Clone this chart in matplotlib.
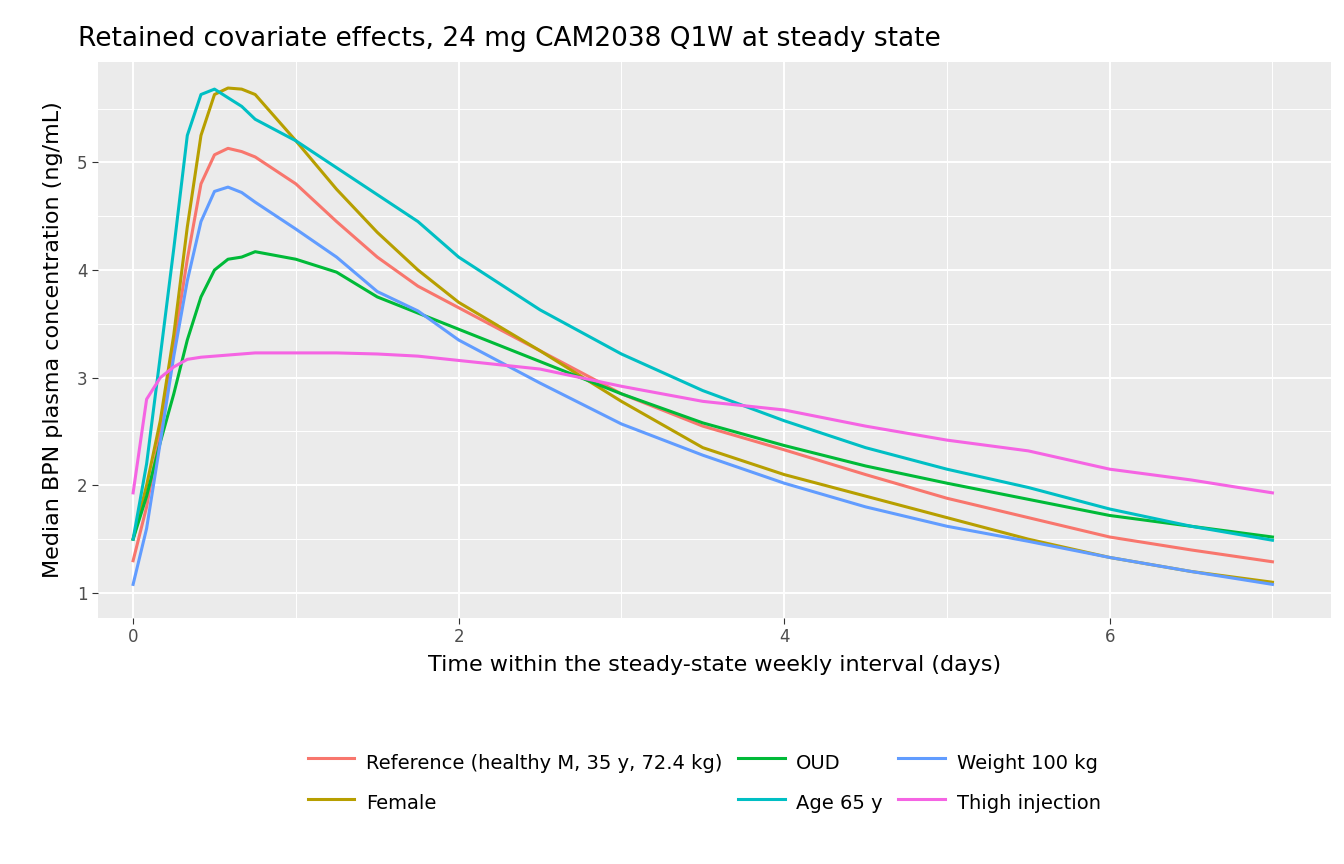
import matplotlib
matplotlib.use("Agg")
import matplotlib.pyplot as plt

t = [0, 0.083, 0.167, 0.25, 0.333, 0.417, 0.5, 0.583, 0.667, 0.75, 1, 1.25, 1.5, 1.75, 2, 2.5, 3, 3.5, 4, 4.5, 5, 5.5, 6, 6.5, 7]
ref = [1.3,1.8,2.5,3.3,4.1,4.8,5.07,5.13,5.1,5.05,4.8,4.45,4.12,3.85,3.65,3.25,2.85,2.55,2.33,2.1,1.88,1.7,1.52,1.4,1.29]
female = [1.5,2.0,2.6,3.4,4.4,5.25,5.63,5.69,5.68,5.63,5.2,4.75,4.35,4.0,3.7,3.25,2.78,2.35,2.1,1.9,1.7,1.5,1.33,1.2,1.1]
oud = [1.5,1.9,2.4,2.85,3.35,3.75,4.0,4.1,4.12,4.17,4.1,3.98,3.75,3.6,3.45,3.15,2.85,2.58,2.37,2.18,2.02,1.87,1.72,1.62,1.52]
age65 = [1.5,2.2,3.2,4.2,5.25,5.63,5.68,5.6,5.52,5.4,5.2,4.95,4.7,4.45,4.12,3.63,3.22,2.88,2.6,2.35,2.15,1.98,1.78,1.62,1.49]
w100 = [1.08,1.6,2.4,3.2,3.9,4.45,4.73,4.77,4.72,4.63,4.38,4.12,3.8,3.62,3.35,2.95,2.57,2.28,2.02,1.8,1.62,1.48,1.33,1.2,1.08]
thigh = [1.93,2.8,3.0,3.1,3.17,3.19,3.2,3.21,3.22,3.23,3.23,3.23,3.22,3.2,3.16,3.08,2.92,2.78,2.7,2.55,2.42,2.32,2.15,2.05,1.93]

series = [("Reference (healthy M, 35 y, 72.4 kg)", ref, "#F8766D"),
          ("Female", female, "#B79F00"),
          ("OUD", oud, "#00BA38"),
          ("Age 65 y", age65, "#00BFC4"),
          ("Weight 100 kg", w100, "#619CFF"),
          ("Thigh injection", thigh, "#F564E3")]

fig = plt.figure(figsize=(13.44, 8.64), dpi=100)
ax = fig.add_axes([0.073, 0.285, 0.917, 0.643])
ax.set_facecolor("#EBEBEB")
for s in ax.spines.values():
    s.set_visible(False)
ax.set_xlim(-0.215, 7.357)
ax.set_ylim(0.77, 5.93)
ax.set_xticks([0, 2, 4, 6])
ax.set_yticks([1, 2, 3, 4, 5])
ax.set_xticks([1, 3, 5, 7], minor=True)
ax.set_yticks([1.5, 2.5, 3.5, 4.5, 5.5], minor=True)
ax.grid(True, which="major", color="white", lw=1.4)
ax.grid(True, which="minor", color="white", lw=0.7)
ax.set_axisbelow(True)
ax.tick_params(which="major", length=4, color="#333333", labelsize=12, labelcolor="#4D4D4D")
ax.tick_params(which="minor", length=0)
for name, y, c in series:
    ax.plot(t, y, color=c, lw=2.2, label=name)
ax.set_xlabel("Time within the steady-state weekly interval (days)", fontsize=16, labelpad=6)
ax.set_ylabel("Median BPN plasma concentration (ng/mL)", fontsize=16, labelpad=10)
ax.set_title("Retained covariate effects, 24 mg CAM2038 Q1W at steady state", fontsize=19, loc="left", x=-0.016, pad=12)
leg = fig.legend(loc="center", bbox_to_anchor=(0.524, 0.094), ncol=3, frameon=False,
                 fontsize=14, handlelength=2.4, handleheight=1.9, columnspacing=0.8,
                 labelspacing=0.6, handletextpad=0.6)
for h in leg.legend_handles:
    pass
# grey key backgrounds like ggplot
fig.canvas.draw()
for ln in leg.get_lines():
    pass
plt.savefig("out.png", dpi=100)
